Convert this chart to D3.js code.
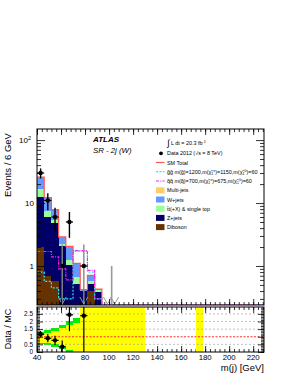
<!DOCTYPE html>
<html>
<head>
<meta charset="utf-8">
<script src="https://cdn.jsdelivr.net/npm/d3@7"></script>
<style>
  body { margin: 0; background: #fff; }
  text { font-family: "Liberation Sans", Arial, Helvetica, sans-serif; fill: #000; }
</style>
</head>
<body>
<svg id="chart" width="289" height="374"></svg>
<script>

// ---- data (bins of 6 GeV starting at 40 GeV) ----
var binStart = 40, binWidth = 6, nBins = 32;

var dataCounts = [30, 11, 6, 1, 5, 0, 1, 0, 0, 0];
var dataErrLo  = [5.5, 3.3, 2.4, 1, 2.2, 0, 1, 0, 0, 0];
var dataErrHi  = [5.5, 3.3, 2.4, 1.2, 2.2, 0, 1.2, 0, 0, 0];

var diboson   = [2.0, 0.70, 0.57, 0, 0, 0, 0, 0.40, 0, 0];
var zJets     = [10.3, 5.3, 4.2, 2.1, 1.05, 0.52, 0.40, 0.12, 0.39, 0];
var ttbar     = [4.2, 1.5, 0.6, 0.15, 0.2, 0.16, 0, 0.06, 0.02, 0];
var wJets     = [9.3, 4.7, 2.5, 0.65, 0.8, 0.42, 0.02, 0.13, 0.02, 0];
var multiJets = [0, 0, 0, 0, 0, 0, 0, 0, 0, 0];

var sigGluino = [0.8, 0.57, 0.45, 0.3, 0.3, 1.72, 1.72, 0.8, 0.3, 0.15];
var sigSquark = [1.7, 1.7, 1.4, 0.9, 0.6, 1.75, 1.75, 0.85, 0.3, 0.15];

// ratio pad uncertainty bands (per bin, ratio units)
var yellowLo = [0.62, 0.58, 0.5, 0.35, 0.1, 0, 0, 0, 0, 0, 0, 0, 0, 0, 0, null, null, null, null, null, null, null, 0];
var yellowHi = [1.12, 1.25, 1.35, 1.55, 1.75, 1.9, 3, 3, 3, 3, 3, 3, 3, 3, 3, null, null, null, null, null, null, null, 3];
var greenLo  = [0.5, 0.45, 0.35, 0.2, 0, 0, null, null, null, null, null, null, null, null, null];
var greenHi  = [1.32, 1.45, 1.6, 1.8, 2.0, 2.2, null, null, null, null, null, null, null, null, null];

var xTicks = [40, 60, 80, 100, 120, 140, 160, 180, 200, 220];
var ratioTicks = [0, 0.5, 1, 1.5, 2, 2.5];
var ratioTickLabels = ["0", "0.5", "1", "1.5", "2", "2.5"];

var bkgKeys   = ["diboson", "zJets", "ttbar", "wJets", "multiJets"];
var bkgColors = { diboson: "#663300", zJets: "#000066", ttbar: "#99ff99", wJets: "#6699ff", multiJets: "#ffcc66" };

// ---- layout ----
var svg = d3.select("#chart");
var left = 37, right = 264, mainTop = 129, mainBottom = 305, ratioTop = 307, ratioBottom = 352;

var x = d3.scaleLinear().domain([40, 229]).range([left, right]);
var y = d3.scaleLog().domain([0.24, 150]).range([mainBottom, mainTop]).clamp(true);
var yr = d3.scaleLinear().domain([0, 2.95]).range([ratioBottom, ratioTop]).clamp(true);

function val(arr, i) { return arr[i] || 0; }
function yv(v) { return y(Math.max(v, 0.24)); }

var table = d3.range(nBins).map(function(i) {
  return {
    lo: binStart + i * binWidth,
    diboson: val(diboson, i), zJets: val(zJets, i), ttbar: val(ttbar, i),
    wJets: val(wJets, i), multiJets: val(multiJets, i)
  };
});
var stacked = d3.stack().keys(bkgKeys)(table);
var totals = table.map(function(d) { return d3.sum(bkgKeys, function(k) { return d[k]; }); });

svg.append("defs").append("clipPath").attr("id", "clipMain")
  .append("rect").attr("x", left).attr("y", mainTop).attr("width", right - left).attr("height", mainBottom - mainTop);
svg.select("defs").append("clipPath").attr("id", "clipRatio")
  .append("rect").attr("x", left).attr("y", ratioTop).attr("width", right - left).attr("height", ratioBottom - ratioTop);

// ---- main pad ----
var gMain = svg.append("g").attr("clip-path", "url(#clipMain)");

stacked.forEach(function(layer) {
  gMain.append("g").selectAll("rect")
    .data(layer.filter(function(d) { return d[1] > d[0]; }))
    .enter().append("rect")
    .attr("x", function(d) { return x(d.data.lo); })
    .attr("width", function(d) { return x(d.data.lo + binWidth) - x(d.data.lo); })
    .attr("y", function(d) { return yv(d[1]); })
    .attr("height", function(d) { return yv(d[0]) - yv(d[1]); })
    .attr("fill", bkgColors[layer.key])
    .attr("shape-rendering", "crispEdges");
});

function stepPoints(values) {
  var pts = [];
  d3.range(nBins).forEach(function(i) {
    var v = val(values, i);
    pts.push([binStart + i * binWidth, v]);
    pts.push([binStart + (i + 1) * binWidth, v]);
  });
  return pts;
}
var stepLine = d3.line().x(function(d) { return x(d[0]); }).y(function(d) { return yv(d[1]); });

gMain.append("path").attr("d", stepLine(stepPoints(totals)))
  .attr("fill", "none").attr("stroke", "#ff5555").attr("stroke-width", 1.2);
gMain.append("path").attr("d", stepLine(stepPoints(sigGluino)))
  .attr("fill", "none").attr("stroke", "#22eeee").attr("stroke-width", 1.2).attr("stroke-dasharray", "2,1.5");
gMain.append("path").attr("d", stepLine(stepPoints(sigSquark)))
  .attr("fill", "none").attr("stroke", "#ee22ee").attr("stroke-width", 1.2).attr("stroke-dasharray", "3,1.2,1,1.2");

// data points
dataCounts.forEach(function(n, i) {
  if (n <= 0) return;
  var cx = x(binStart + (i + 0.5) * binWidth);
  var lowOut = (n - dataErrLo[i]) < 0.24;
  var col = lowOut ? "#888" : "#000";
  gMain.append("line").attr("x1", cx).attr("x2", cx)
    .attr("y1", yv(n + dataErrHi[i])).attr("y2", lowOut ? mainBottom : yv(n - dataErrLo[i]))
    .attr("stroke", col).attr("stroke-width", 1.4);
  gMain.append("line").attr("x1", x(binStart + i * binWidth)).attr("x2", x(binStart + (i + 1) * binWidth))
    .attr("y1", yv(n)).attr("y2", yv(n)).attr("stroke", "#000").attr("stroke-width", 1.2);
  if (lowOut) {
    gMain.append("path")
      .attr("d", "M" + (cx - 4) + "," + (mainBottom - 8) + "L" + cx + "," + (mainBottom - 1) + "L" + (cx + 4) + "," + (mainBottom - 8))
      .attr("fill", "none").attr("stroke", "#999").attr("stroke-width", 1);
  }
  gMain.append("circle").attr("cx", cx).attr("cy", yv(n)).attr("r", 2.2).attr("fill", "#000");
});

// empty-bin marker near 100 GeV
gMain.append("line").attr("x1", x(103) - 1).attr("x2", x(103) - 1).attr("y1", y(1)).attr("y2", mainBottom)
  .attr("stroke", "#999").attr("stroke-width", 1.6);
[97, 103].forEach(function(c) {
  var cx = x(c) + 2;
  gMain.append("path")
    .attr("d", "M" + (cx - 4) + "," + (mainBottom - 8) + "L" + cx + "," + (mainBottom - 1) + "L" + (cx + 4) + "," + (mainBottom - 8))
    .attr("fill", "none").attr("stroke", "#999").attr("stroke-width", 1);
});

// frame and axes (main)
svg.append("rect").attr("x", left).attr("y", mainTop).attr("width", right - left).attr("height", mainBottom - mainTop)
  .attr("fill", "none").attr("stroke", "#000").attr("stroke-width", 1);

var majorY = [1, 10, 100];
var minorY = [];
[0.1, 1, 10, 100].forEach(function(d) {
  for (var m = 2; m <= 9; m++) { var v = d * m; if (v > 0.24 && v < 150) minorY.push(v); }
});
svg.append("g").attr("transform", "translate(" + left + ",0)")
  .call(d3.axisLeft(y).tickValues(majorY).tickSize(-8).tickFormat(""));
svg.append("g").attr("transform", "translate(" + left + ",0)")
  .call(d3.axisLeft(y).tickValues(minorY).tickSize(-4).tickFormat(""));
svg.append("g").attr("transform", "translate(" + right + ",0)")
  .call(d3.axisRight(y).tickValues(majorY).tickSize(-8).tickFormat(""));
svg.append("g").attr("transform", "translate(" + right + ",0)")
  .call(d3.axisRight(y).tickValues(minorY).tickSize(-4).tickFormat(""));

var minorX = d3.range(40, 229, 4);
[[mainBottom, "bottom"], [mainTop, "top"], [ratioTop, "top"], [ratioBottom, "bottom"]].forEach(function(p) {
  var ax = p[1] === "bottom" ? d3.axisBottom : d3.axisTop;
  svg.append("g").attr("transform", "translate(0," + p[0] + ")")
    .call(ax(x).tickValues(xTicks).tickSize(-6).tickFormat(""));
  svg.append("g").attr("transform", "translate(0," + p[0] + ")")
    .call(ax(x).tickValues(minorX).tickSize(-3).tickFormat(""));
});
svg.selectAll(".domain").remove();

// y tick labels (main)
var yLab = svg.append("g");
yLab.append("text").attr("x", 31).attr("y", y(100) + 3).attr("text-anchor", "end").attr("font-size", 8)
  .text("10").append("tspan").attr("dy", -3).attr("font-size", 5.5).text("2");
yLab.append("text").attr("x", 34).attr("y", y(10) + 3).attr("text-anchor", "end").attr("font-size", 8).text("10");
yLab.append("text").attr("x", 34).attr("y", y(1) + 3).attr("text-anchor", "end").attr("font-size", 8).text("1");

svg.append("text").attr("transform", "translate(11,165) rotate(-90)")
  .attr("text-anchor", "middle").attr("font-size", 9.5).text("Events / 6 GeV");

// labels
svg.append("text").attr("x", 93).attr("y", 142).attr("font-size", 8)
  .attr("font-weight", "bold").attr("font-style", "italic").text("ATLAS");
svg.append("text").attr("x", 93).attr("y", 153).attr("font-size", 7.8)
  .attr("font-style", "italic").attr("fill", "#333").text("SR - 2j (W)");

// legend
var lg = svg.append("g").attr("font-size", 5.4);
var lgX = 167;
var lum = lg.append("text").attr("x", lgX + 4).attr("y", 145);
lg.append("text").attr("x", lgX).attr("y", 146).attr("font-size", 9).text("\u222B");
lum.text("L dt = 20.3 fb").append("tspan").attr("dy", -2).attr("font-size", 3.8).text("-1");

lg.append("circle").attr("cx", 161).attr("cy", 153.3).attr("r", 1.9).attr("fill", "#000");
lg.append("text").attr("x", lgX).attr("y", 155.2).text("Data 2012 (\u221As = 8 TeV)");

lg.append("line").attr("x1", 156).attr("x2", 164.5).attr("y1", 162.5).attr("y2", 162.5)
  .attr("stroke", "#ff5555").attr("stroke-width", 1.2);
lg.append("text").attr("x", lgX).attr("y", 164.5).text("SM Total");

lg.append("line").attr("x1", 156).attr("x2", 164.5).attr("y1", 171.7).attr("y2", 171.7)
  .attr("stroke", "#22eeee").attr("stroke-width", 1.2).attr("stroke-dasharray", "2,1.5");
var t1 = lg.append("text").attr("x", lgX).attr("y", 173.6);
t1.append("tspan").text("g\u0303g\u0303 m(g\u0303)=1200,m(\u03C7\u0303");
t1.append("tspan").attr("font-size", 3.6).attr("dy", 1.3).text("1");
t1.append("tspan").attr("font-size", 3.6).attr("dy", -3).text("\u00B1");
t1.append("tspan").attr("dy", 1.7).text(")=1150,m(\u03C7\u0303");
t1.append("tspan").attr("font-size", 3.6).attr("dy", 1.3).text("1");
t1.append("tspan").attr("font-size", 3.6).attr("dy", -3).text("0");
t1.append("tspan").attr("dy", 1.7).text(")=60");

lg.append("line").attr("x1", 156).attr("x2", 164.5).attr("y1", 181).attr("y2", 181)
  .attr("stroke", "#ee22ee").attr("stroke-width", 1.2).attr("stroke-dasharray", "3,1.2,1,1.2");
var t2 = lg.append("text").attr("x", lgX).attr("y", 182.9);
t2.append("tspan").text("q\u0303q\u0303 m(q\u0303)=700,m(\u03C7\u0303");
t2.append("tspan").attr("font-size", 3.6).attr("dy", 1.3).text("1");
t2.append("tspan").attr("font-size", 3.6).attr("dy", -3).text("\u00B1");
t2.append("tspan").attr("dy", 1.7).text(")=675,m(\u03C7\u0303");
t2.append("tspan").attr("font-size", 3.6).attr("dy", 1.3).text("1");
t2.append("tspan").attr("font-size", 3.6).attr("dy", -3).text("0");
t2.append("tspan").attr("dy", 1.7).text(")=60");

var boxItems = [
  ["multiJets", "Multi-jets"],
  ["wJets", "W+jets"],
  ["ttbar", "t\u0304t(+X) & single top"],
  ["zJets", "Z+jets"],
  ["diboson", "Diboson"]
];
boxItems.forEach(function(it, k) {
  var cy = 190.3 + k * 9.2;
  lg.append("rect").attr("x", 156).attr("y", cy - 3).attr("width", 8.5).attr("height", 6)
    .attr("fill", bkgColors[it[0]]);
  lg.append("text").attr("x", lgX).attr("y", cy + 2).text(it[1]);
});

// ---- ratio pad ----
var gRatio = svg.append("g").attr("clip-path", "url(#clipRatio)");

function bandRects(lo, hi, color) {
  gRatio.append("g").selectAll("rect")
    .data(d3.range(lo.length).filter(function(i) { return lo[i] != null && hi[i] != null; }))
    .enter().append("rect")
    .attr("x", function(i) { return x(binStart + i * binWidth); })
    .attr("width", function() { return x(binStart + binWidth) - x(binStart); })
    .attr("y", function(i) { return yr(hi[i]); })
    .attr("height", function(i) { return yr(lo[i]) - yr(hi[i]); })
    .attr("fill", color)
    .attr("shape-rendering", "crispEdges");
}
bandRects(greenLo, greenHi, "#00ee00");
bandRects(yellowLo, yellowHi, "#ffff00");

// grid lines
[0.5, 1.5, 2, 2.5].forEach(function(v) {
  gRatio.append("line").attr("x1", left).attr("x2", right).attr("y1", yr(v)).attr("y2", yr(v))
    .attr("stroke", "#999").attr("stroke-width", 0.6).attr("stroke-dasharray", "2,2");
});
gRatio.append("line").attr("x1", left).attr("x2", right).attr("y1", yr(1)).attr("y2", yr(1))
  .attr("stroke", "#ff3333").attr("stroke-width", 1).attr("stroke-dasharray", "2,1.5");

// ratio points
dataCounts.forEach(function(n, i) {
  if (n <= 0 || totals[i] <= 0) return;
  var r = n / totals[i];
  var cx = x(binStart + (i + 0.5) * binWidth);
  gRatio.append("line").attr("x1", cx).attr("x2", cx)
    .attr("y1", yr(r + dataErrHi[i] / totals[i])).attr("y2", yr(Math.max(0, r - dataErrLo[i] / totals[i])))
    .attr("stroke", "#000").attr("stroke-width", 1.2);
  gRatio.append("line").attr("x1", x(binStart + i * binWidth)).attr("x2", x(binStart + (i + 1) * binWidth))
    .attr("y1", yr(r)).attr("y2", yr(r)).attr("stroke", "#000").attr("stroke-width", 1.2);
  gRatio.append("circle").attr("cx", cx).attr("cy", yr(r)).attr("r", 2.2).attr("fill", "#000");
});

svg.append("rect").attr("x", left).attr("y", ratioTop).attr("width", right - left).attr("height", ratioBottom - ratioTop)
  .attr("fill", "none").attr("stroke", "#000").attr("stroke-width", 1);

var ratioMinor = d3.range(0, 2.95, 0.1);
svg.append("g").attr("transform", "translate(" + left + ",0)")
  .call(d3.axisLeft(yr).tickValues(ratioTicks).tickSize(-6).tickFormat(""));
svg.append("g").attr("transform", "translate(" + left + ",0)")
  .call(d3.axisLeft(yr).tickValues(ratioMinor).tickSize(-3).tickFormat(""));
svg.append("g").attr("transform", "translate(" + right + ",0)")
  .call(d3.axisRight(yr).tickValues(ratioTicks).tickSize(-6).tickFormat(""));
svg.append("g").attr("transform", "translate(" + right + ",0)")
  .call(d3.axisRight(yr).tickValues(ratioMinor).tickSize(-3).tickFormat(""));
svg.selectAll(".domain").remove();

ratioTicks.forEach(function(v, k) {
  svg.append("text").attr("x", 33).attr("y", yr(v) + 2.3).attr("text-anchor", "end")
    .attr("font-size", 6.4).text(ratioTickLabels[k]);
});
xTicks.forEach(function(v) {
  svg.append("text").attr("x", x(v)).attr("y", 359.5).attr("text-anchor", "middle")
    .attr("font-size", 7.8).text(v);
});
svg.append("text").attr("transform", "translate(11,329) rotate(-90)")
  .attr("text-anchor", "middle").attr("font-size", 9).text("Data / MC");
svg.append("text").attr("x", 264).attr("y", 370.5).attr("text-anchor", "end")
  .attr("font-size", 9.5).text("m(j) [GeV]");

svg.selectAll(".tick line").attr("stroke", "#000").attr("stroke-width", 0.8);
</script>
</body>
</html>
